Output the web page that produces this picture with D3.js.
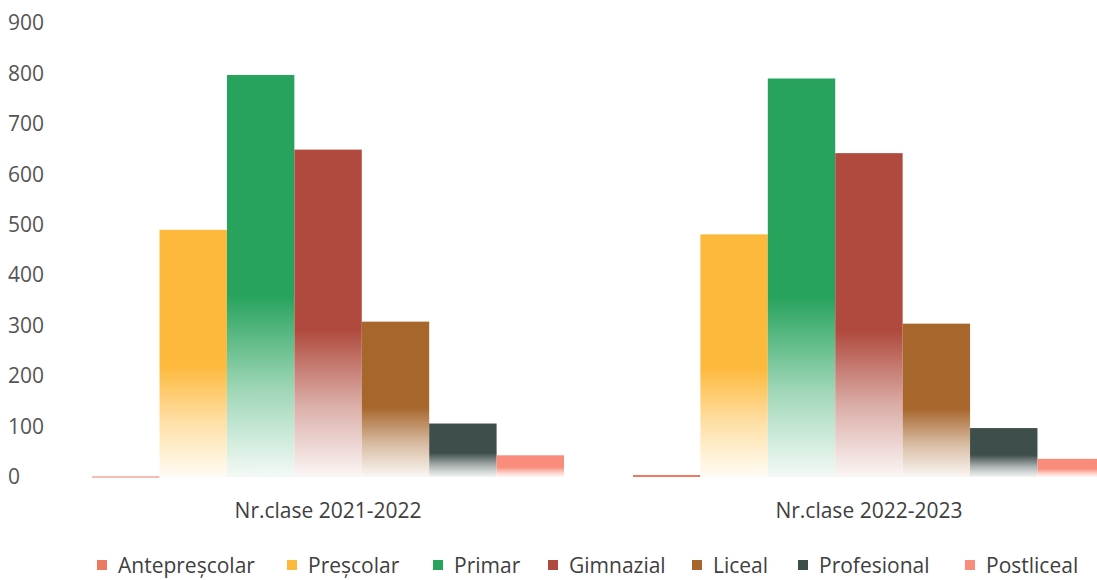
<!DOCTYPE html>
<html>
<head>
<meta charset="utf-8">
<script src="https://cdn.jsdelivr.net/npm/d3@7"></script>
<style>
  html, body { margin: 0; padding: 0; background: #fff; overflow: hidden; }
  svg { display: block; }
  text { font-family: "Open Sans", sans-serif; }
</style>
</head>
<body>
<svg id="chart" width="1097" height="580"></svg>
<script>
// ---- data ----
const groups = ["Nr.clase 2021-2022", "Nr.clase 2022-2023"];
const seriesNames = ["Antepreșcolar", "Preșcolar", "Primar", "Gimnazial", "Liceal", "Profesional", "Postliceal"];
const values2021 = [1, 490, 797, 649, 308, 106, 43];
const values2022 = [4, 481, 790, 642, 304, 97, 36];
const seriesColors = ["#ec7a63", "#fdb93c", "#27a35d", "#b04a3e", "#a7662c", "#3e4e4b", "#f98c7a"];
const yTicks = [0, 100, 200, 300, 400, 500, 600, 700, 800, 900];

const valuesByGroup = [values2021, values2022];

const svg = d3.select("#chart");

const y = d3.scaleLinear().domain([0, 900]).range([477, 23]);
const x0 = d3.scaleBand().domain(groups).range([57.5, 1139.5]).paddingInner(0.1275).paddingOuter(0.064);
const x1 = d3.scaleBand().domain(seriesNames).range([0, x0.bandwidth()]).padding(0);
const color = d3.scaleOrdinal().domain(seriesNames).range(seriesColors);

// gradients: solid top, fading toward white near the base
const defs = svg.append("defs");
seriesNames.forEach((s, i) => {
  const c = color(s);
  const mix = t => d3.interpolateRgb(c, "#ffffff")(t);
  const g = defs.append("linearGradient")
    .attr("id", "grad" + i)
    .attr("x1", 0).attr("y1", 0).attr("x2", 0).attr("y2", 1);
  g.append("stop").attr("offset", 0).attr("stop-color", c);
  g.append("stop").attr("offset", 0.55).attr("stop-color", c);
  g.append("stop").attr("offset", 0.78).attr("stop-color", mix(0.55));
  g.append("stop").attr("offset", 1).attr("stop-color", mix(0.95));
});

// y axis labels (no line)
const yAxis = d3.axisLeft(y).tickValues(yTicks).tickSize(0).tickPadding(0);
const yg = svg.append("g").attr("transform", "translate(8,0)").call(yAxis);
yg.select(".domain").remove();
yg.selectAll("text")
  .attr("text-anchor", "start")
  .attr("x", 0)
  .attr("fill", "#555555")
  .style("font-size", "21px")
  .style("font-family", "'Open Sans', sans-serif");

// bars
const gGroups = svg.append("g").selectAll("g")
  .data(groups)
  .join("g")
  .attr("transform", d => `translate(${x0(d)},0)`);

gGroups.selectAll("rect")
  .data((g, gi) => seriesNames.map((s, i) => ({ s, i, v: valuesByGroup[gi][i] })))
  .join("rect")
  .attr("x", d => x1(d.s))
  .attr("width", x1.bandwidth())
  .attr("y", d => y(d.v))
  .attr("height", d => Math.max(1, y(0) - y(d.v)))
  .attr("fill", d => d.v < 10 ? color(d.s) : `url(#grad${d.i})`);

// x axis group labels
const xAxis = d3.axisBottom(x0).tickSize(0).tickPadding(0);
const xg = svg.append("g").attr("transform", "translate(0,499)").call(xAxis);
xg.select(".domain").remove();
xg.selectAll("text")
  .attr("dy", "0.9em")
  .attr("fill", "#404040")
  .style("font-size", "21px")
  .style("font-family", "'Open Sans', sans-serif");

// legend
const legendX = [97, 287, 433, 548, 692, 798, 965];
const legend = svg.append("g").selectAll("g")
  .data(seriesNames)
  .join("g")
  .attr("transform", (d, i) => `translate(${legendX[i]},566)`);
legend.append("rect")
  .attr("x", 0).attr("y", -6)
  .attr("width", 10).attr("height", 10)
  .attr("fill", d => color(d));
legend.append("text")
  .attr("x", 21).attr("y", 0)
  .attr("dy", "0.35em")
  .attr("fill", "#404040")
  .style("font-size", "21px")
  .text(d => d);
</script>
</body>
</html>
